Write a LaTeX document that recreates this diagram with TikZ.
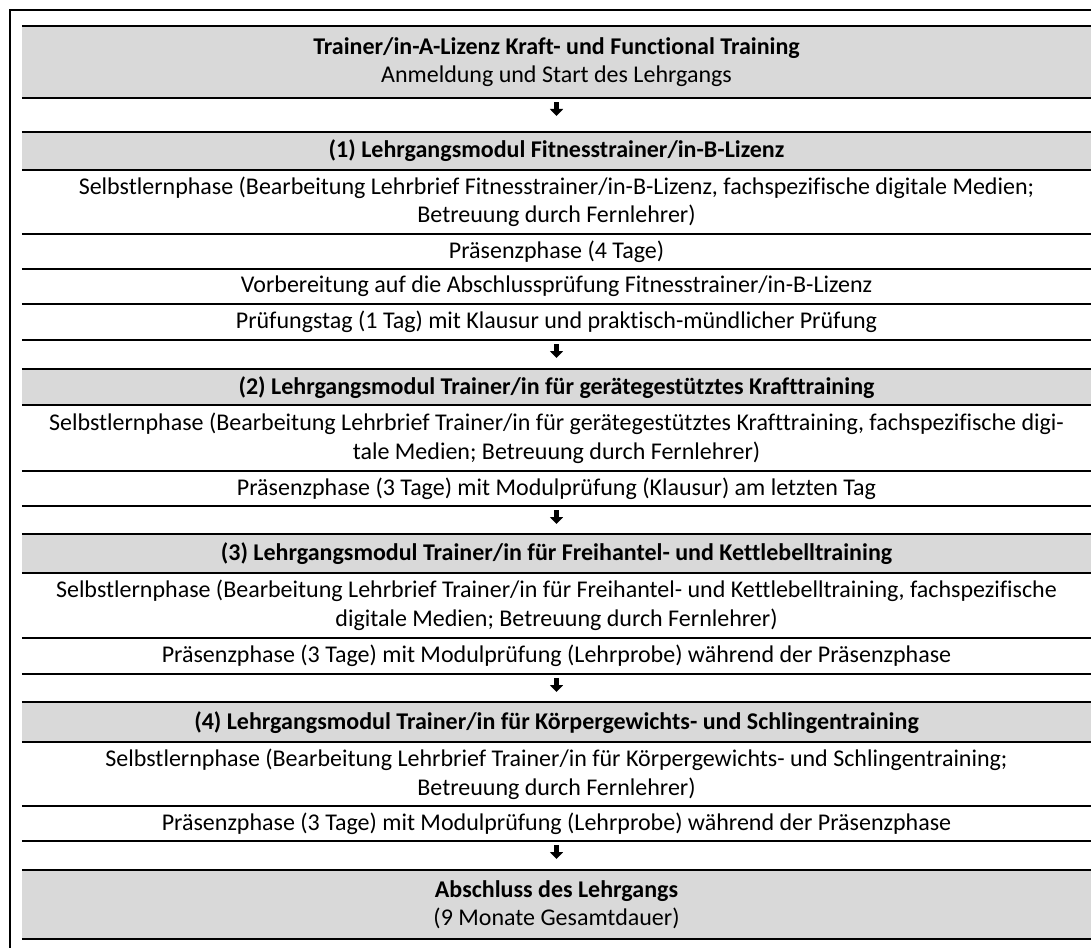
\documentclass[tikz,border=0pt]{standalone}
\usepackage{fontspec}
\setmainfont{Carlito}[Ligatures=NoCommon]
\usetikzlibrary{arrows.meta}
\definecolor{zeilgrau}{HTML}{D9D9D9}

\begin{document}
\begin{tikzpicture}[x=1pt, y=-1pt,
		feld/.style={anchor=north, minimum width=1069pt, inner sep=0pt, align=center, font=\fontsize{24}{28.5}\selectfont},
		kopf/.style={feld, fill=zeilgrau, font=\fontsize{24}{28.5}\selectfont\bfseries},
		linie/.style={line width=2pt},
		duenn/.style={line width=1.2pt},
		pfeil/.style={line width=4.5pt, -{Triangle[width=13pt,length=7pt]}, shorten <=4pt, shorten >=#1}]
				\useasboundingbox (0,0) rectangle (1091,947);
				\clip (0,0) rectangle (1091,947);
				\draw[linie] (10,960) -- (10,10.5) -- (1100,10.5);
				
				\node[kopf, minimum height=72pt] (K) at (556.5,26) {Trainer/in-A-Lizenz Kraft- und Functional Training\\ \mdseries Anmeldung und Start des Lehrgangs};
				
				\node[kopf, minimum height=38pt] (M1) at (556.5,131.5) {(1) Lehrgangsmodul Fitnesstrainer/in-B-Lizenz};
				\node[feld, minimum height=64.5pt] (S1) at (556.5,169.5) {Selbstlernphase (Bearbeitung Lehrbrief Fitnesstrainer/in-B-Lizenz, fachspezifische digitale Medien;\\ Betreuung durch Fernlehrer)};
				\node[feld, minimum height=35pt] (P1) at (556.5,234) {Präsenzphase (4 Tage)};
				\node[feld, minimum height=35pt] (V1) at (556.5,269) {Vorbereitung auf die Abschlussprüfung Fitnesstrainer/in-B-Lizenz};
				\node[feld, minimum height=36pt] (T1) at (556.5,304) {Prüfungstag (1 Tag) mit Klausur und praktisch-mündlicher Prüfung};
				
				\node[kopf, minimum height=36pt] (M2) at (556.5,369) {(2) Lehrgangsmodul Trainer/in für gerätegestütztes Krafttraining};
				\node[feld, minimum height=66pt] (S2) at (556.5,405) {Selbstlernphase (Bearbeitung Lehrbrief Trainer/in für gerätegestütztes Krafttraining, fachspezifische digi-\\ tale Medien; Betreuung durch Fernlehrer)};
				\node[feld, minimum height=35pt] (P2) at (556.5,471) {Präsenzphase (3 Tage) mit Modulprüfung (Klausur) am letzten Tag};
				
				\node[kopf, minimum height=39pt] (M3) at (556.5,534) {(3) Lehrgangsmodul Trainer/in für Freihantel- und Kettlebelltraining};
				\node[feld, minimum height=64.5pt] (S3) at (556.5,573) {Selbstlernphase (Bearbeitung Lehrbrief Trainer/in für Freihantel- und Kettlebelltraining, fachspezifische\\ digitale Medien; Betreuung durch Fernlehrer)};
				\node[feld, minimum height=36.5pt] (P3) at (556.5,637.5) {Präsenzphase (3 Tage) mit Modulprüfung (Lehrprobe) während der Präsenzphase};
				
				\node[kopf, minimum height=40pt] (M4) at (556.5,702) {(4) Lehrgangsmodul Trainer/in für Körpergewichts- und Schlingentraining};
				\node[feld, minimum height=64pt] (S4) at (556.5,742) {Selbstlernphase (Bearbeitung Lehrbrief Trainer/in für Körpergewichts- und Schlingentraining;\\ Betreuung durch Fernlehrer)};
				\node[feld, minimum height=35pt] (P4) at (556.5,806) {Präsenzphase (3 Tage) mit Modulprüfung (Lehrprobe) während der Präsenzphase};
				
				\node[kopf, minimum height=69pt] (E) at (556.5,870) {Abschluss des Lehrgangs\\ \mdseries (9 Monate Gesamtdauer)};
				
				% Tabellenlinien
				\draw[duenn] (K.north west) -- (K.north east);
				\foreach \n in {K,M1,S1,P1,V1,T1,M2,S2,P2,M3,S3,P3,M4,S4,P4,E}
					\draw[linie] (\n.south west) -- (\n.south east);
				\foreach \n in {M1,M2,M3}
					\draw[linie] (\n.north west) -- (\n.north east);
				\draw[duenn] (M4.north west) -- (M4.north east);
				\draw[duenn] (E.north west) -- (E.north east);
				
				\draw[pfeil=15.5pt] (K) -- (M1);
				\draw[pfeil=11pt] (T1) -- (M2);
				\draw[pfeil=10pt] (P2) -- (M3);
				\draw[pfeil=10pt] (P3) -- (M4);
				\draw[pfeil=11pt] (P4) -- (E);
			\end{tikzpicture}
\end{document}
